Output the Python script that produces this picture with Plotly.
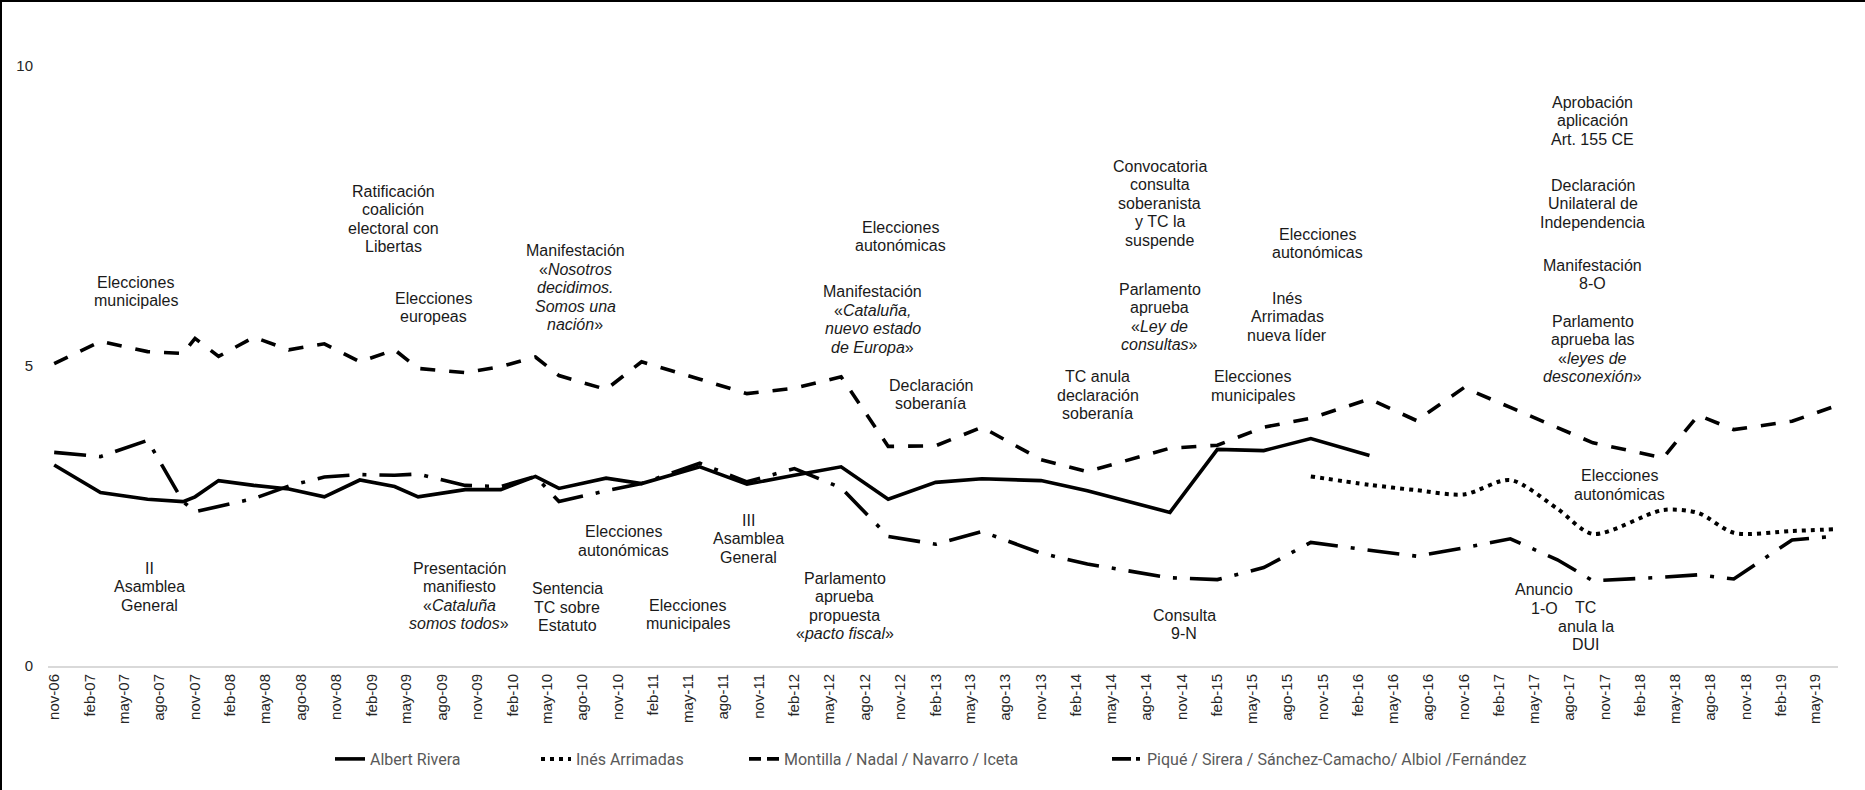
import plotly.graph_objects as go

# ---- Barometer fieldwork dates ----
dates_all = [
    "2006-11-01", "2007-03-01", "2007-07-01", "2007-10-01", "2007-11-01",
    "2008-01-01", "2008-04-01", "2008-07-01", "2008-10-01", "2009-01-01",
    "2009-04-01", "2009-06-01", "2009-10-01", "2010-01-01", "2010-04-01",
    "2010-06-01", "2010-10-01", "2011-01-01", "2011-06-01", "2011-10-01",
    "2012-02-01", "2012-06-01", "2012-10-01", "2013-02-01", "2013-06-01",
    "2013-11-01", "2014-03-01", "2014-10-01", "2015-02-01", "2015-06-01",
    "2015-10-01", "2016-03-01", "2016-07-01", "2016-11-01", "2017-03-01",
    "2017-07-01", "2017-10-01", "2018-04-01", "2018-07-01", "2018-10-01",
    "2019-03-01", "2019-06-16",
]
dates_rivera = dates_all[:32]
dates_arrimadas = dates_all[30:]

# ---- Leader ratings (0-10) ----
rivera = [3.35, 2.89, 2.78, 2.74, 2.82, 3.09, 3.01, 2.95, 2.82, 3.10,
          2.99, 2.82, 2.94, 2.94, 3.16, 2.96, 3.13, 3.04, 3.32, 3.03,
          3.18, 3.32, 2.78, 3.06, 3.12, 3.09, 2.92, 2.56, 3.61, 3.59,
          3.79, 3.51]
arrimadas = [3.16, 3.02, 2.93, 2.86, 3.10, 2.62, 2.20, 2.60, 2.55, 2.22,
             2.25, 2.28]
psc = [5.04, 5.41, 5.24, 5.21, 5.46, 5.16, 5.48, 5.27, 5.37, 5.07,
       5.27, 4.96, 4.89, 4.99, 5.15, 4.84, 4.61, 5.07, 4.78, 4.54,
       4.63, 4.82, 3.66, 3.67, 3.98, 3.44, 3.24, 3.63, 3.68, 3.98,
       4.13, 4.45, 4.09, 4.64, 4.31, 3.97, 3.72, 3.47, 4.18, 3.94,
       4.08, 4.32]
pp = [3.56, 3.49, 3.76, 2.74, 2.57, 2.66, 2.79, 3.00, 3.15, 3.19,
      3.18, 3.20, 3.01, 2.99, 3.16, 2.74, 2.92, 3.04, 3.38, 3.07,
      3.29, 2.97, 2.16, 2.03, 2.24, 1.88, 1.70, 1.47, 1.44, 1.64,
      2.06, 1.93, 1.83, 1.97, 2.12, 1.77, 1.42, 1.48, 1.52, 1.45,
      2.10, 2.16]

series_names = ["Albert Rivera", "Inés Arrimadas",
                "Montilla / Nadal / Navarro / Iceta",
                "Piqué / Sirera / Sánchez-Camacho/ Albiol /Fernández"]

# ---- Quarterly axis labels ----
tick_dates = [
    "2006-11-01", "2007-02-01", "2007-05-01", "2007-08-01", "2007-11-01",
    "2008-02-01", "2008-05-01", "2008-08-01", "2008-11-01", "2009-02-01",
    "2009-05-01", "2009-08-01", "2009-11-01", "2010-02-01", "2010-05-01",
    "2010-08-01", "2010-11-01", "2011-02-01", "2011-05-01", "2011-08-01",
    "2011-11-01", "2012-02-01", "2012-05-01", "2012-08-01", "2012-11-01",
    "2013-02-01", "2013-05-01", "2013-08-01", "2013-11-01", "2014-02-01",
    "2014-05-01", "2014-08-01", "2014-11-01", "2015-02-01", "2015-05-01",
    "2015-08-01", "2015-11-01", "2016-02-01", "2016-05-01", "2016-08-01",
    "2016-11-01", "2017-02-01", "2017-05-01", "2017-08-01", "2017-11-01",
    "2018-02-01", "2018-05-01", "2018-08-01", "2018-11-01", "2019-02-01",
    "2019-05-01",
]
tick_labels = [
    "nov-06", "feb-07", "may-07", "ago-07", "nov-07", "feb-08", "may-08",
    "ago-08", "nov-08", "feb-09", "may-09", "ago-09", "nov-09", "feb-10",
    "may-10", "ago-10", "nov-10", "feb-11", "may-11", "ago-11", "nov-11",
    "feb-12", "may-12", "ago-12", "nov-12", "feb-13", "may-13", "ago-13",
    "nov-13", "feb-14", "may-14", "ago-14", "nov-14", "feb-15", "may-15",
    "ago-15", "nov-15", "feb-16", "may-16", "ago-16", "nov-16", "feb-17",
    "may-17", "ago-17", "nov-17", "feb-18", "may-18", "ago-18", "nov-18",
    "feb-19", "may-19",
]

# ---- Political events (date, rating level of first text line, text lines) ----
event_dates = [
    "2007-06-01", "2009-03-28", "2009-07-10", "2010-07-13", "2012-11-01",
    "2012-08-22", "2013-01-19", "2014-09-04", "2014-09-04", "2014-03-28",
    "2015-10-19", "2015-08-01", "2015-05-04", "2017-10-01", "2017-10-01",
    "2017-10-01", "2017-10-01", "2017-12-10", "2007-07-07", "2009-09-16",
    "2010-06-22", "2010-11-16", "2011-05-01", "2011-10-04", "2012-06-10",
    "2014-11-07", "2017-05-28", "2017-09-13",
]
event_levels = [
    6.40, 7.91, 6.13, 6.92, 7.31,
    6.24, 4.68, 8.33, 6.28, 4.82,
    7.20, 6.13, 4.82, 9.40, 8.01,
    6.68, 5.75, 3.17, 1.63, 1.63,
    1.29, 2.24, 1.01, 2.43, 1.46,
    0.85, 1.27, 0.97,
]
event_texts = [
    ["Elecciones", "municipales"],
    ["Ratificación", "coalición", "electoral con", "Libertas"],
    ["Elecciones", "europeas"],
    ["Manifestación", "«<i>Nosotros</i>", "<i>decidimos.</i>", "<i>Somos una</i>", "<i>nación</i>»"],
    ["Elecciones", "autonómicas"],
    ["Manifestación", "«<i>Cataluña,</i>", "<i>nuevo estado</i>", "<i>de Europa</i>»"],
    ["Declaración", "soberanía"],
    ["Convocatoria", "consulta", "soberanista", "y TC la", "suspende"],
    ["Parlamento", "aprueba", "«<i>Ley de</i>", "<i>consultas</i>»"],
    ["TC anula", "declaración", "soberanía"],
    ["Elecciones", "autonómicas"],
    ["Inés", "Arrimadas", "nueva líder"],
    ["Elecciones", "municipales"],
    ["Aprobación", "aplicación", "Art. 155 CE"],
    ["Declaración", "Unilateral de", "Independencia"],
    ["Manifestación", "8-O"],
    ["Parlamento", "aprueba las", "«<i>leyes de</i>", "<i>desconexión</i>»"],
    ["Elecciones", "autonómicas"],
    ["II", "Asamblea", "General"],
    ["Presentación", "manifiesto", "«<i>Cataluña</i>", "<i>somos todos</i>»"],
    ["Sentencia", "TC sobre", "Estatuto"],
    ["Elecciones", "autonómicas"],
    ["Elecciones", "municipales"],
    ["III", "Asamblea", "General"],
    ["Parlamento", "aprueba", "propuesta", "«<i>pacto fiscal</i>»"],
    ["Consulta", "9-N"],
    ["Anuncio", "1-O"],
    ["TC", "anula la", "DUI"],
]

# ---- Layout constants ----
W, H = 1865, 790
M_L, M_R, M_T, M_B = 48, 27, 30, 124
LINE_H = 18.5
TEXT_FONT = dict(family="Liberation Sans, Arial, sans-serif", size=16, color="#1a1a1a")
LEGEND_FONT = dict(family="Liberation Sans Narrow, Roboto, Arial, sans-serif",
                   size=16, color="#595959")
LEGEND_LEFT = [330, 536, 744, 1107]   # left edge of each legend entry (px)
LEGEND_MID_Y = 759                    # vertical centre of legend row (px)

# Line styles: (width, dash pattern on the chart, dash pattern in the legend swatch)
STYLES = [
    (3.6, "solid", "solid"),
    (4.0, "4px,5px", "4px,5px"),
    (3.6, "15px,14px", "12px,6px"),
    (3.6, "32px,13px,4px,13px", "19px,5px,4px,5px"),
]

plot_w = W - M_L - M_R
plot_h = H - M_T - M_B
px = lambda v: (v - M_L) / plot_w
py = lambda v: (H - M_B - v) / plot_h

legend_ids = ["legend", "legend2", "legend3", "legend4"]
series_x = [dates_rivera, dates_arrimadas, dates_all, dates_all]
series_y = [rivera, arrimadas, psc, pp]

fig = go.Figure()

for i, (xs, ys) in enumerate(zip(series_x, series_y)):
    width, dash, swatch = STYLES[i]
    extra = dict(shape="spline", smoothing=0.8) if i == 1 else {}
    fig.add_trace(go.Scatter(
        x=xs, y=ys, name=series_names[i], mode="lines",
        line=dict(color="#000000", width=width, dash=dash, **extra),
        showlegend=False,
    ))
    # legend-only entry with a compact swatch of the same line style
    fig.add_trace(go.Scatter(
        x=[None], y=[None], name=series_names[i], mode="lines",
        line=dict(color="#000000", width=width, dash=swatch),
        legend=legend_ids[i], showlegend=True,
    ))

for d, lvl, lines in zip(event_dates, event_levels, event_texts):
    for k, txt in enumerate(lines):
        fig.add_annotation(
            x=d, y=lvl, text=txt, showarrow=False,
            xanchor="center", yanchor="middle", yshift=-LINE_H * k,
            font=TEXT_FONT,
        )

# Outer frame (left and top edges)
fig.add_shape(type="line", xref="paper", yref="paper",
              x0=px(1), x1=px(1), y0=py(0), y1=py(H),
              line=dict(color="#000000", width=2))
fig.add_shape(type="line", xref="paper", yref="paper",
              x0=px(0), x1=px(W), y0=py(1), y1=py(1),
              line=dict(color="#000000", width=2))

legend_layout = {}
for lid, left in zip(legend_ids, LEGEND_LEFT):
    legend_layout[lid] = dict(
        orientation="h", x=px(left), xanchor="left",
        y=py(LEGEND_MID_Y), yanchor="middle",
        font=LEGEND_FONT, bgcolor="rgba(0,0,0,0)",
    )

fig.update_layout(
    width=W, height=H,
    margin=dict(l=M_L, r=M_R, t=M_T, b=M_B),
    paper_bgcolor="#ffffff", plot_bgcolor="#ffffff",
    showlegend=True,
    **legend_layout,
    xaxis=dict(
        type="date", range=["2006-10-16", "2019-06-28"],
        tickmode="array", tickvals=tick_dates, ticktext=tick_labels,
        tickangle=-90, showgrid=False, zeroline=False,
        showline=True, linecolor="#d9d9d9", linewidth=2, ticks="",
        tickfont=dict(family="Liberation Sans, Arial, sans-serif", size=15, color="#262626"),
    ),
    yaxis=dict(
        range=[0, 10.6], tickmode="array", tickvals=[0, 5, 10],
        showgrid=False, zeroline=False, showline=False, ticks="",
        ticklabelstandoff=14,
        tickfont=dict(family="Liberation Sans, Arial, sans-serif", size=15, color="#262626"),
    ),
)

fig.write_html("out.html")
